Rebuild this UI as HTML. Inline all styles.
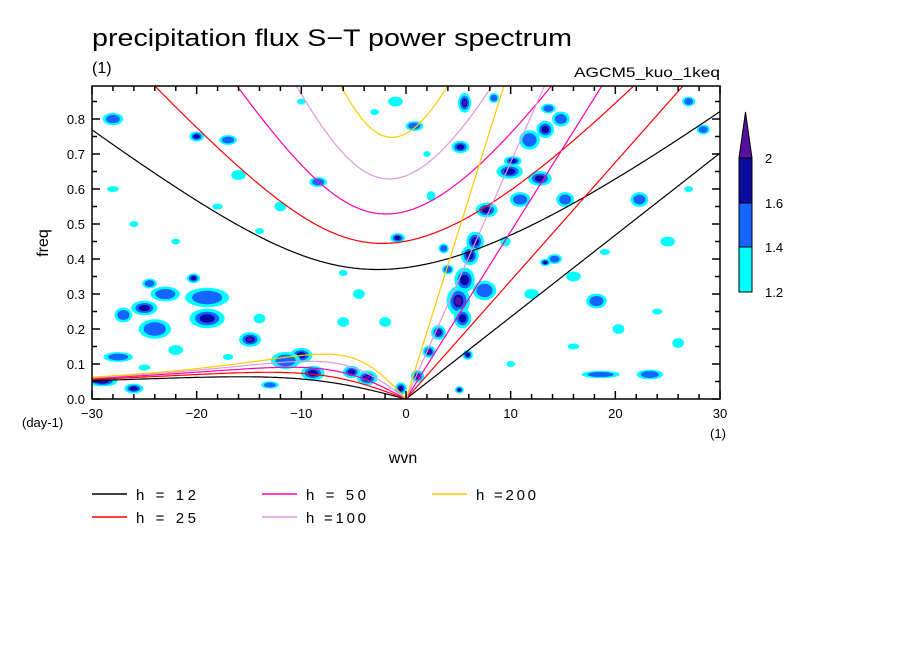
<!DOCTYPE html>
<html><head><meta charset="utf-8"><style>
body{margin:0;background:#fff;}
svg{display:block;font-family:"Liberation Sans",sans-serif;}
</style></head><body>
<svg id="chart" width="904" height="654" viewBox="0 0 904 654">
<rect width="904" height="654" fill="#fff"/>
<text x="92" y="46" font-size="24" textLength="480" lengthAdjust="spacingAndGlyphs">precipitation flux S−T power spectrum</text>
<text x="92" y="73" font-size="16">(1)</text>
<text x="720" y="77" font-size="14" text-anchor="end" textLength="146" lengthAdjust="spacingAndGlyphs">AGCM5_kuo_1keq</text>
<defs><clipPath id="pc"><rect x="92" y="86" width="628" height="313"/></clipPath></defs>
<g id="blobs" clip-path="url(#pc)"></g>
<g id="curves" clip-path="url(#pc)"></g>
<rect x="92" y="86" width="628" height="313" fill="none" stroke="#000" stroke-width="1.5"/>
<g id="axes"></g>
<text x="403" y="463" font-size="16" text-anchor="middle">wvn</text>
<text x="48" y="243" font-size="16" text-anchor="middle" transform="rotate(-90 48 243)">freq</text>
<text x="22" y="427" font-size="13">(day-1)</text>
<text x="718" y="438" font-size="13" text-anchor="middle">(1)</text>
<g id="cbar"></g>
<g id="legend"></g>
</svg>
<script>
const depths=[12,25,50,100,200];
const depthLabels=["h = 12","h = 25","h = 50","h =100","h =200"];
const depthColors=["#000000","#ff0000","#ff00aa","#dd99dd","#ffcc00"];
const xTicks=[-30,-20,-10,0,10,20,30];
const xTickLabels=["−30","−20","−10","0","10","20","30"];
const yTicks=[0,0.1,0.2,0.3,0.4,0.5,0.6,0.7,0.8];
const yTickLabels=["0.0","0.1","0.2","0.3","0.4","0.5","0.6","0.7","0.8"];
const cbLevels=["1.2","1.4","1.6","2"];
const levelColors=["#00ffff","#1464ff","#0a0aa0","#55109f"];
// blobs: wavenumber, freq, level(1-4), half-width in wvn, half-height in freq
const blobK=[5.6,3.1,2.2,1.1,5.0,5.6,6.1,6.6,5.4,7.5,7.7,9.9,10.2,10.9,12.8,13.3,13.6,11.8,14.8,15.2,14.2,13.3,5.9,5.1,-0.5,-3.7,-5.2,-8.9,-10,-11.5,-14.9,-19,-25,-20.3,-24,-26,-29,-20,-17,-19,-23,-8.4,-0.8,5.2,0.8,-1,18.2,22.3,20.3,23.3,18.6,27,28.4,-27,-22,-13,-6,-28,-16,-12,-4.5,3.6,9.5,-2,2.4,8.4,16,25,-27.5,-14,-24.5,4,12,26,-25,-17,-22,-28,-14,-6,-3,2,-10,16,24,27,10,19,-18,-26];
const blobF=[0.846,0.19,0.135,0.065,0.28,0.34,0.41,0.45,0.23,0.31,0.54,0.65,0.68,0.57,0.63,0.77,0.83,0.74,0.8,0.57,0.40,0.39,0.126,0.026,0.03,0.06,0.077,0.074,0.125,0.11,0.17,0.23,0.26,0.345,0.2,0.03,0.05,0.75,0.74,0.29,0.3,0.62,0.46,0.72,0.78,0.85,0.28,0.57,0.2,0.07,0.07,0.85,0.77,0.24,0.14,0.04,0.22,0.8,0.64,0.55,0.3,0.43,0.45,0.22,0.58,0.86,0.35,0.45,0.12,0.23,0.33,0.37,0.3,0.16,0.09,0.12,0.45,0.6,0.48,0.36,0.82,0.7,0.85,0.15,0.25,0.6,0.1,0.42,0.55,0.5];
const blobL=[4,4,4,4,4,3,3,3,3,2,3,3,3,2,3,3,2,2,2,2,2,3,3,3,3,4,3,3,3,2,4,3,3,3,2,3,3,3,2,2,2,2,3,3,2,1,2,2,1,2,2,2,2,2,1,2,1,2,1,1,1,2,1,1,1,2,1,1,2,1,2,2,1,1,1,1,1,1,1,1,1,1,1,1,1,1,1,1,1,1];
const blobW=[0.9,1.0,0.9,0.9,1.6,1.4,1.2,1.2,1.2,1.6,1.5,1.8,1.2,1.4,1.6,1.2,1.0,1.4,1.2,1.2,1.0,0.7,0.7,0.6,0.8,1.4,1.2,1.6,1.5,2.0,1.5,2.4,1.8,0.9,2.2,1.3,2.0,1.0,1.2,3.0,2.0,1.2,1.0,1.2,1.2,1.0,1.4,1.2,0.8,1.8,2.6,0.9,0.9,1.2,1.0,1.2,0.8,1.4,1.0,0.8,0.8,0.7,0.7,0.8,0.6,0.7,1.0,1.0,2.0,0.8,1.0,0.8,1.0,0.8,0.8,0.7,0.6,0.8,0.6,0.6,0.6,0.5,0.6,0.8,0.7,0.6,0.6,0.7,0.7,0.6];
const blobH=[0.04,0.03,0.025,0.025,0.06,0.05,0.04,0.04,0.04,0.04,0.03,0.03,0.02,0.03,0.03,0.035,0.02,0.04,0.03,0.03,0.02,0.015,0.02,0.015,0.025,0.03,0.025,0.03,0.03,0.035,0.03,0.04,0.03,0.02,0.04,0.02,0.02,0.02,0.02,0.04,0.03,0.02,0.02,0.025,0.02,0.02,0.03,0.03,0.02,0.02,0.015,0.02,0.02,0.03,0.02,0.015,0.02,0.025,0.02,0.02,0.02,0.02,0.02,0.02,0.02,0.02,0.02,0.02,0.02,0.02,0.02,0.02,0.02,0.02,0.012,0.012,0.012,0.012,0.012,0.012,0.012,0.012,0.012,0.012,0.012,0.012,0.012,0.012,0.012,0.012];

const X0=92,X1=720,Y0=399,Y1=86,FMAX=0.8943;
function xs(k){return X0+(k+30)/60*(X1-X0);}
function ys(f){return Y0-f/FMAX*(Y0-Y1);}
const NS="http://www.w3.org/2000/svg";
function mk(tag,attrs,parent){const e=document.createElementNS(NS,tag);for(const a in attrs)e.setAttribute(a,attrs[a]);parent.appendChild(e);return e;}

const gB=document.getElementById('blobs');
const scales=[0.7,0.48,0.3,0.2];
for(let i=0;i<blobK.length;i++){
  for(let l=0;l<blobL[i];l++){
    const s=scales[l];
    const e=mk('ellipse',{cx:xs(blobK[i]),cy:ys(blobF[i]),rx:blobW[i]*s*628/60,ry:blobH[i]*s*313/FMAX,fill:levelColors[l]},gB);
    
    
  }
}

const gC=document.getElementById('curves');
const beta=2.29e-11,A=6.371e6,toCpd=86400/(2*Math.PI);
depths.forEach((h,di)=>{
  const c=Math.sqrt(9.81*h);
  let ig=[],ross=[],kel=[];
  for(let s=-30;s<=30.0001;s+=0.1){
    const k=s/A;
    const p=-(c*c*k*k+3*beta*c), q=-beta*c*c*k;
    const m=2*Math.sqrt(-p/3);
    let arg=(3*q/(2*p))*Math.sqrt(-3/p);arg=Math.max(-1,Math.min(1,arg));
    const th=Math.acos(arg)/3;
    const r=[0,1,2].map(j=>m*Math.cos(th-2*Math.PI*j/3)).sort((a,b)=>b-a);
    ig.push([xs(s),ys(r[0]*toCpd)]);
    if(s<0){const pos=r.filter(v=>v>0);ross.push([xs(s),ys(pos[pos.length-1]*toCpd)]);}
    if(s>=0)kel.push([xs(s),ys(c*k*toCpd)]);
  }
  ross.push([xs(0),ys(0)]);
  [ig,ross,kel].forEach((pts,ci)=>{
    const e=mk('polyline',{points:pts.map(p=>p[0].toFixed(1)+','+p[1].toFixed(1)).join(' '),fill:'none',stroke:depthColors[di],'stroke-width':1.2},gC);
    
    
  });
});

const gA=document.getElementById('axes');
for(let s=-30;s<=30;s+=2){const L=(s%10===0)?8:5;
  let e=mk('line',{x1:xs(s),x2:xs(s),y1:Y0,y2:Y0-L,stroke:'#000','stroke-width':1.5},gA);
  e=mk('line',{x1:xs(s),x2:xs(s),y1:Y1,y2:Y1+L,stroke:'#000','stroke-width':1.5},gA);}
for(let i=0;i<=17;i++){const f=i*0.05,L=(i%2===0)?8:5;
  let e=mk('line',{x1:X0,x2:X0+L,y1:ys(f),y2:ys(f),stroke:'#000','stroke-width':1.5},gA);
  e=mk('line',{x1:X1,x2:X1-L,y1:ys(f),y2:ys(f),stroke:'#000','stroke-width':1.5},gA);}
xTicks.forEach((v,i)=>{const t=mk('text',{x:xs(v),y:418,'font-size':13,'text-anchor':'middle'},gA);t.textContent=xTickLabels[i];
  });
yTicks.forEach((v,i)=>{const t=mk('text',{x:85,y:ys(v)+5,'font-size':13,'text-anchor':'end'},gA);t.textContent=yTickLabels[i];
  });

const gK=document.getElementById('cbar');
const cbY=[292,247,203,158];
for(let i=0;i<3;i++){const e=mk('rect',{x:739,y:cbY[i+1],width:13,height:cbY[i]-cbY[i+1],fill:levelColors[i],stroke:'#000','stroke-width':1},gK);
  }
let tri=mk('polygon',{points:'739,158 752,158 745.5,112',fill:levelColors[3],stroke:'#000','stroke-width':1},gK);

cbLevels.forEach((v,i)=>{const t=mk('text',{x:765,y:cbY[i]+5,'font-size':13},gK);t.textContent=v;
  });

const gL=document.getElementById('legend');
const lx=[92,92,262,262,432],ly=[494,517,494,517,494];
depths.forEach((h,i)=>{
  const l=mk('line',{x1:lx[i],x2:lx[i]+35,y1:ly[i],y2:ly[i],stroke:depthColors[i],'stroke-width':1.5},gL);
  
  const t=mk('text',{x:lx[i]+44,y:ly[i]+6,'font-size':15,textLength:60,lengthAdjust:'spacing'},gL);t.textContent=depthLabels[i];
  
});
</script>
</body></html>
